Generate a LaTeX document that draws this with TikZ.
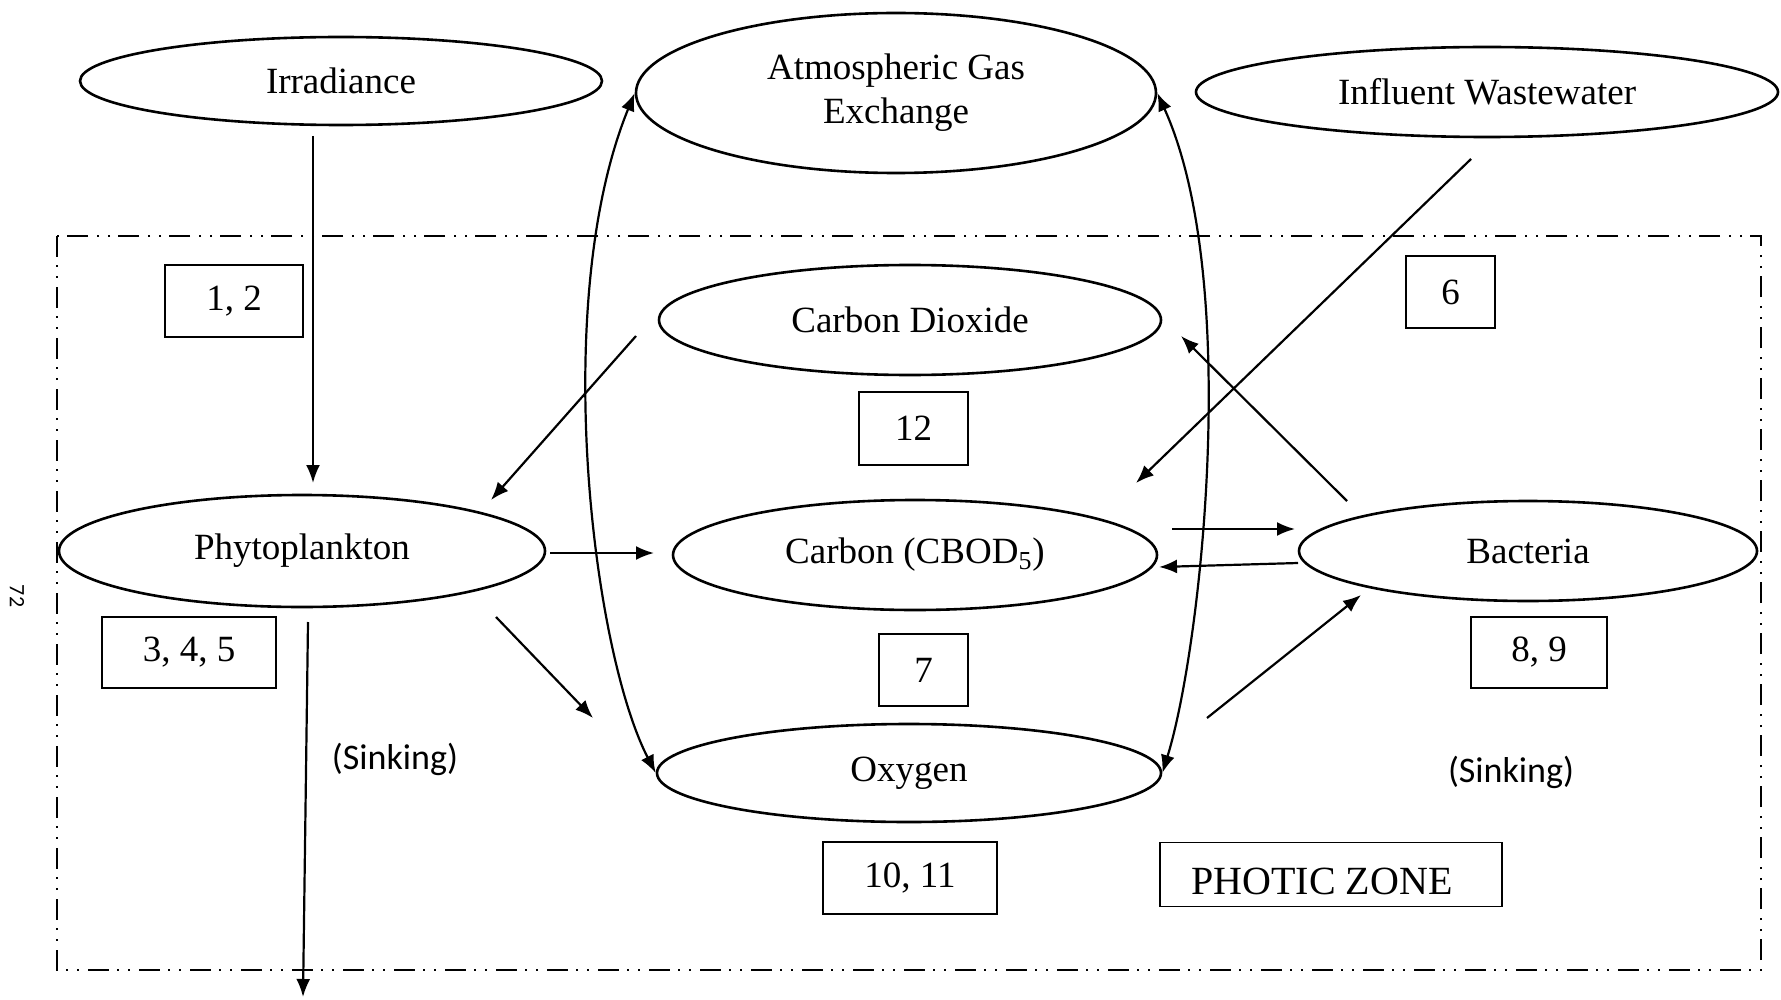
\documentclass[tikz,border=0pt]{standalone}
\usepackage{fontspec}
\setmainfont{Liberation Serif}
\newfontfamily\calib{Carlito}
\usetikzlibrary{arrows.meta,shapes.geometric}
\begin{document}
\begin{tikzpicture}[x=0.5pt,y=-0.5pt,
  ell/.style={draw,ellipse,line width=1.3pt,inner sep=0pt,font=\fontsize{18.5}{22}\selectfont,align=center},
  numbox/.style={draw,rectangle,line width=0.9pt,inner sep=0pt,font=\fontsize{18.5}{22}\selectfont},
  arr/.style={-{Latex[length=9pt,width=7pt]},line width=1.1pt},
  darr/.style={{Latex[length=9pt,width=7pt]}-{Latex[length=9pt,width=7pt]},line width=1.1pt},
  zone/.style={line width=1.3pt,dash pattern=on 10.5pt off 4pt on 1pt off 4.5pt on 1pt off 4.5pt},
  lbl/.style={font=\calib\fontsize{18}{22}\selectfont}]
\useasboundingbox (0,0) rectangle (1781,1000);

% photic zone frame
\draw[zone] (57,236) rectangle (1761,970);

% ellipses
\node[ell,minimum width=261pt,minimum height=44pt] (irr) at (341,81) {Irradiance};
\node[ell,minimum width=260pt,minimum height=80pt] (atm) at (896,93) {Atmospheric Gas\\Exchange};
\node[ell,minimum width=291pt,minimum height=45pt] (inf) at (1487,92) {Influent Wastewater};
\node[ell,minimum width=251pt,minimum height=55pt] (co2) at (910,320) {Carbon Dioxide};
\node[ell,minimum width=243pt,minimum height=56pt] (phy) at (302,551) {Phytoplankton};
\node[ell,minimum width=242pt,minimum height=55pt] (cbod) at (915,555) {Carbon (CBOD\textsubscript{5})};
\node[ell,minimum width=252pt,minimum height=49pt] (oxy) at (909,773) {Oxygen};
\node[ell,minimum width=229pt,minimum height=50pt] (bac) at (1528,551) {Bacteria};

% number boxes
\node[numbox,minimum width=69pt,minimum height=36pt] (b12) at (234,301) {1, 2};
\node[numbox,minimum width=44.5pt,minimum height=36pt] (b6) at (1450.5,292) {6};
\node[numbox,minimum width=54.5pt,minimum height=36.5pt] (b12b) at (913.5,428.5) {12};
\node[numbox,minimum width=87pt,minimum height=35.5pt] (b345) at (189,652.5) {3, 4, 5};
\node[numbox,minimum width=44.5pt,minimum height=36pt] (b7) at (923.5,670) {7};
\node[numbox,minimum width=87pt,minimum height=36pt] (b1011) at (910,878) {10, 11};
\node[numbox,minimum width=68pt,minimum height=35.5pt] (b89) at (1539,652.5) {8, 9};
\node[numbox,minimum width=171pt,minimum height=32pt] (pz) at (1331,874.5) {};
\node[anchor=base,inner sep=0pt,font=\fontsize{20}{22}\selectfont] (pzt) at (1322,894) {PHOTIC ZONE};

% labels
\node[lbl] (sk1) at (395,759) {(Sinking)};
\node[lbl] (sk2) at (1511,772) {(Sinking)};
\node[font=\calib\fontsize{11}{12}\selectfont,rotate=-90] (pg) at (17,596) {72};

% connector end points
\coordinate (irrA) at (313,136);  \coordinate (phyA) at (313,483);
\coordinate (co2A) at (636,336);  \coordinate (phyB) at (491,500);
\coordinate (phyC) at (550,553);  \coordinate (cbodA) at (654,553);
\coordinate (phyD) at (496,617);  \coordinate (oxyA) at (593,718);
\coordinate (phyE) at (308,622);  \coordinate (sinkA) at (303,997);
\coordinate (infA) at (1471,159); \coordinate (cbodB) at (1136,483);
\coordinate (bacA) at (1347,501); \coordinate (co2B) at (1181,336);
\coordinate (cbodC) at (1172,529); \coordinate (bacB) at (1295,529);
\coordinate (bacC) at (1298,563); \coordinate (cbodD) at (1159,567);
\coordinate (oxyB) at (1207,718); \coordinate (bacD) at (1361,595);

% connectors
\draw[arr] (irrA) -- (phyA);
\draw[arr] (co2A) -- (phyB);
\draw[arr] (phyC) -- (cbodA);
\draw[arr] (phyD) -- (oxyA);
\draw[arr] (phyE) -- (sinkA);
\draw[arr] (infA) -- (cbodB);
\draw[arr] (bacA) -- (co2B);
\draw[arr] (cbodC) -- (bacB);
\draw[arr] (bacC) -- (cbodD);
\draw[arr] (oxyB) -- (bacD);
\draw[darr] (atm.west) .. controls (550,300) and (592,650) .. (oxy.west);
\draw[darr] (atm.east) .. controls (1242,280) and (1201,649) .. (oxy.east);
\end{tikzpicture}
\end{document}
